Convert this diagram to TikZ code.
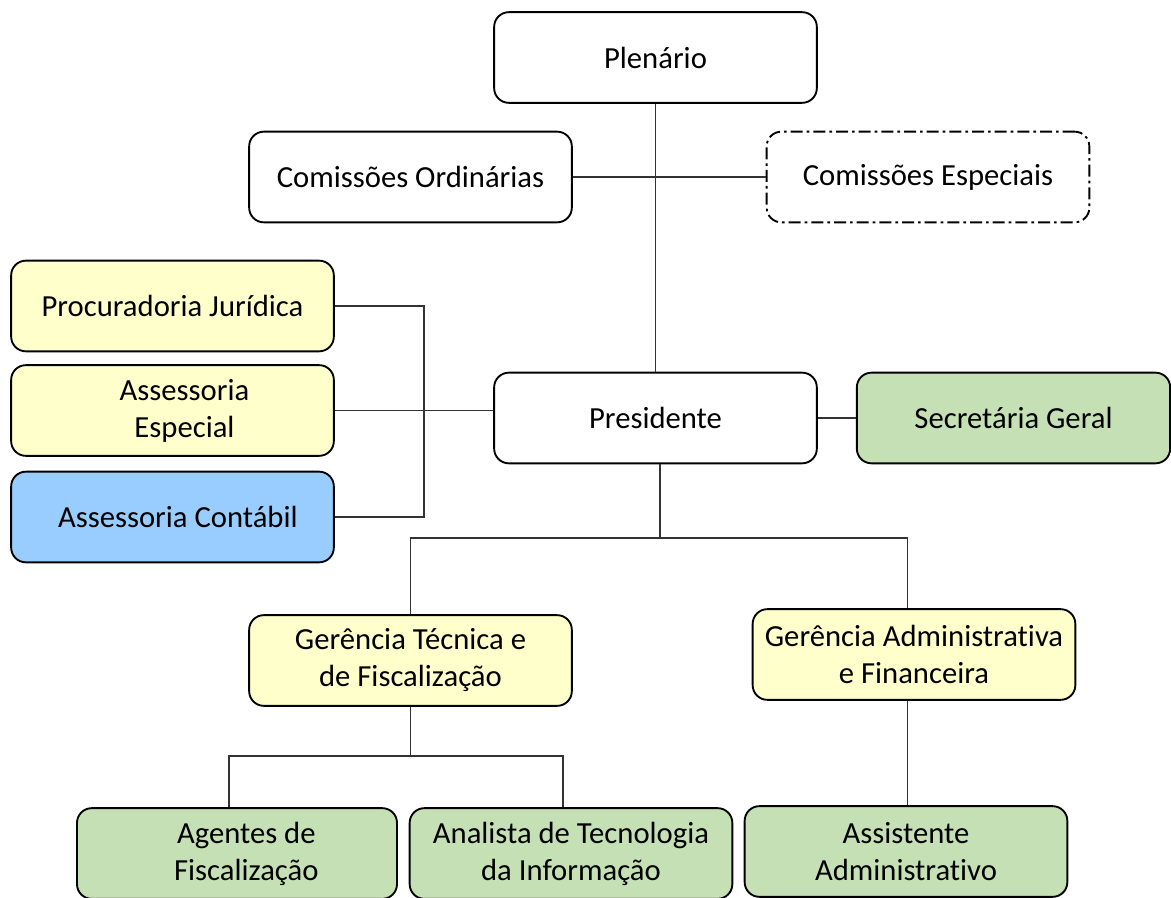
\documentclass[tikz,border=0pt]{standalone}
\usepackage{fontspec}
\setmainfont{Carlito}[Ligatures=NoCommon]

\definecolor{amarelo}{HTML}{FFFFCC}
\definecolor{azul}{HTML}{99CCFF}
\definecolor{verde}{HTML}{C5E0B4}

\begin{document}
\begin{tikzpicture}[x=0.75pt,y=-0.75pt,
	caixa/.style={draw,line width=1.4pt,rounded corners=11pt,minimum width=242pt,minimum height=68pt,
		align=center,inner sep=2pt,font=\fontsize{23}{27.75}\selectfont},
	linha/.style={line width=0.8pt,draw=black!80}]
			\useasboundingbox (0,0) rectangle (1171,898);
			\clip (0,0) rectangle (1171,898);
			% topo
			\node[caixa] (plenario) at (655.5,57.5) {Plenário};
			\node[caixa] (ordinarias) at (410.5,177) {Comissões Ordinárias};
			\node[caixa,dash pattern=on 9pt off 3pt on 2pt off 3pt] (especiais) at (928,177) {\raisebox{-2pt}{Comissões Especiais}};
			% assessorias
			\node[caixa,fill=amarelo] (procuradoria) at (172.5,306) {Procuradoria Jurídica};
			\node[caixa,fill=amarelo] (especial) at (172.5,410.5) {\hspace*{18pt}Assessoria\\\hspace*{18pt}Especial};
			\node[caixa,fill=azul] (contabil) at (172.5,517) {\hspace*{8pt}Assessoria Contábil};
			\node[caixa] (presidente) at (655.5,418) {Presidente};
			\node[caixa,fill=verde,minimum width=235pt] (secretaria) at (1013.5,418) {Secretária Geral};
			% gerencias
			\node[caixa,fill=amarelo] (tecnica) at (410.5,660.5) {Gerência Técnica e\\de Fiscalização};
			\node[caixa,fill=amarelo] (administrativa) at (914,654.5) {Gerência Administrativa\\e Financeira};
			\node[caixa,fill=verde,minimum width=240pt] (agentes) at (237,853.5) {\hspace*{14pt}Agentes de\\\hspace*{14pt}Fiscalização};
			\node[caixa,fill=verde] (analista) at (571,853.5) {Analista de Tecnologia\\da Informação};
			\node[caixa,fill=verde] (assistente) at (906,851.5) {Assistente\\Administrativo};
			\coordinate (colchete) at (424,410);
			\coordinate (ramo) at (660,538);
			\coordinate (ramob) at (410.5,756);
			% ligacoes
			\draw[linha] (plenario) -- (presidente);
			\draw[linha] (ordinarias) -- (especiais);
			\draw[linha] (procuradoria.east) -| (colchete) |- (contabil.east);
			\draw[linha] (especial.east) -- (especial.east -| presidente.west);
			\draw[linha] (presidente) -- (secretaria);
			\draw[linha] (presidente.south -| ramo) -- (ramo);
			\draw[linha] (tecnica.north) |- (ramo) -| ([xshift=-5pt]administrativa.north);
			\draw[linha] (tecnica.south) -- (ramob);
			\draw[linha] ([xshift=-6pt]agentes.north) |- (ramob) -| ([xshift=-6pt]analista.north);
			\draw[linha] ([xshift=-5pt]administrativa.south) -- ([xshift=-5pt]administrativa.south |- assistente.north);
		\end{tikzpicture}
\end{document}
